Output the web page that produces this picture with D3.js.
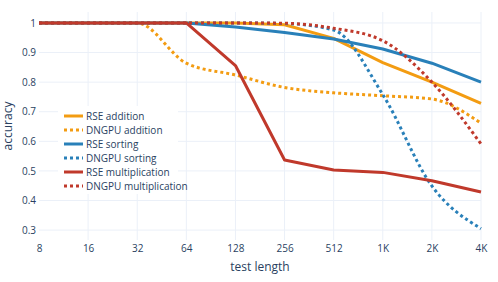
<!DOCTYPE html>
<html><head><meta charset="utf-8">
<script src="https://cdn.jsdelivr.net/npm/d3@7/dist/d3.min.js"></script>
<style>body{margin:0;background:#fff}svg{display:block}text{font-family:"Open Sans",Verdana,Arial,sans-serif;fill:#2a3f5f}</style>
</head><body>
<svg id="c" width="498" height="282"></svg>
<script>
const lengths = [8,16,32,64,128,256,512,1024,2048,4096];
const tickLabels = ["8","16","32","64","128","256","512","1K","2K","4K"];
const yTicks = [0.3,0.4,0.5,0.6,0.7,0.8,0.9,1];
const seriesNames = ["RSE addition","DNGPU addition","RSE sorting","DNGPU sorting","RSE multiplication","DNGPU multiplication"];
const rseAddition   = [1,1,1,1,1,0.994,0.948,0.866,0.800,0.728];
const dngpuAddition = [1,1,1,0.864,0.824,0.782,0.764,0.754,0.743,0.661];
const rseSorting    = [1,1,1,1,0.986,0.968,0.946,0.912,0.864,0.800];
const dngpuSorting  = [1,1,1,1,1,0.998,0.976,0.758,0.449,0.305];
const rseMult       = [1,1,1,1,0.856,0.537,0.503,0.495,0.467,0.429];
const dngpuMult     = [1,1,1,1,1,0.999,0.982,0.940,0.800,0.591];
const colors = ["#f39c12","#f39c12","#2980b9","#2980b9","#c0392b","#c0392b"];
const dashed = [false,true,false,true,false,true];
const allValues = [rseAddition,dngpuAddition,rseSorting,dngpuSorting,rseMult,dngpuMult];

const svg = d3.select("#c");
const L=39,R=481,T=12,B=240;
const x = d3.scaleLog().base(2).domain([8,4096]).range([L,R]);
const y = d3.scaleLinear().domain([0.2665,1.037]).range([B,T]);

const g = svg.append("g");
g.selectAll(".vg").data(lengths.slice(1)).enter().append("line")
 .attr("x1",d=>x(d)).attr("x2",d=>x(d)).attr("y1",T).attr("y2",B)
 .attr("stroke","#ebf0f8").attr("stroke-width",1);
g.selectAll(".hg").data(yTicks).enter().append("line")
 .attr("x1",L).attr("x2",R).attr("y1",d=>y(d)).attr("y2",d=>y(d))
 .attr("stroke","#ebf0f8").attr("stroke-width",1);

const xAxis = d3.axisBottom(x).tickValues(lengths).tickFormat((d,i)=>tickLabels[i]).tickSize(0).tickPadding(5);
const xg = svg.append("g").attr("transform",`translate(0,${B})`).call(xAxis);
xg.select(".domain").remove();
xg.selectAll("text").attr("font-size",10).style("font-family","'Open Sans',Verdana,Arial,sans-serif").attr("fill","#2a3f5f");
const yAxis = d3.axisLeft(y).tickValues(yTicks).tickFormat(d3.format("~g")).tickSize(0).tickPadding(3);
const yg = svg.append("g").attr("transform",`translate(${L},0)`).call(yAxis);
yg.select(".domain").remove();
yg.selectAll("text").attr("font-size",10).style("font-family","'Open Sans',Verdana,Arial,sans-serif").attr("fill","#2a3f5f");

svg.append("text").attr("x",(L+R)/2).attr("y",271).attr("text-anchor","middle").attr("font-size",12).text("test length");
svg.append("text").attr("transform",`translate(12,${(T+B)/2}) rotate(-90)`).attr("text-anchor","middle").attr("font-size",12).text("accuracy");

svg.append("clipPath").attr("id","clp").append("rect").attr("x",L-3).attr("y",T-3).attr("width",R-L+6).attr("height",B-T+6);
const lineSolid = d3.line().x((d,i)=>x(lengths[i])).y(d=>y(d));
const lineSmooth = d3.line().x((d,i)=>x(lengths[i])).y(d=>y(d)).curve(d3.curveMonotoneX);
allValues.forEach((vals,k)=>{
  svg.append("path").attr("d",(dashed[k]?lineSmooth:lineSolid)(vals))
    .attr("fill","none").attr("stroke",colors[k]).attr("stroke-width",3)
    .attr("stroke-dasharray",dashed[k]?"3,3":null).attr("stroke-linejoin","round")
    .attr("clip-path","url(#clp)");
});

const lg = svg.append("g");
lg.append("rect").attr("x",58).attr("y",106).attr("width",120).attr("height",88).attr("fill","#fff");
seriesNames.forEach((n,k)=>{
  const yy = 116 + k*14;
  lg.append("line").attr("x1",64).attr("x2",83).attr("y1",yy).attr("y2",yy)
    .attr("stroke",colors[k]).attr("stroke-width",3).attr("stroke-dasharray",dashed[k]?"3,3":null);
  lg.append("text").attr("x",86).attr("y",yy+3.5).attr("font-size",10).text(n);
});
</script>
</body></html>
